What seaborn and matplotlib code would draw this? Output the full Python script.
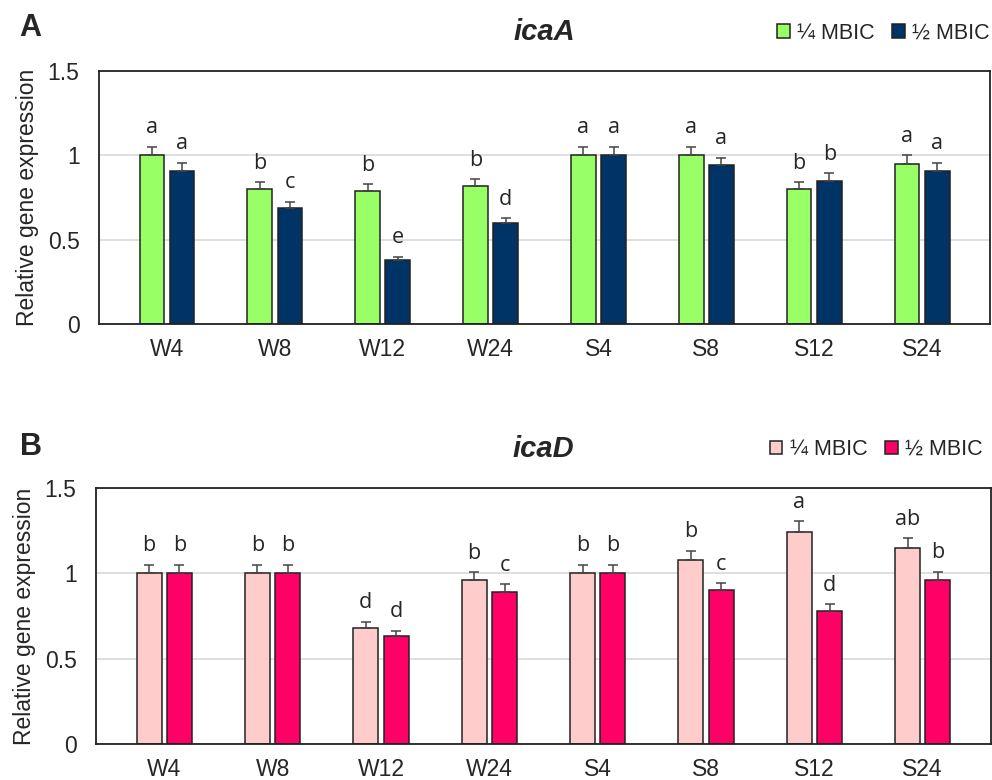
import pandas as pd
import seaborn as sns
import matplotlib.pyplot as plt

conditions = ["W4", "W8", "W12", "W24", "S4", "S8", "S12", "S24"]
doses = ["\u00bc MBIC", "\u00bd MBIC"]

icaA_quarter = [1.00, 0.80, 0.79, 0.82, 1.00, 1.00, 0.80, 0.95]
icaA_half = [0.91, 0.69, 0.38, 0.60, 1.00, 0.94, 0.85, 0.91]
icaA_quarter_err = [0.05, 0.04, 0.04, 0.04, 0.05, 0.05, 0.04, 0.05]
icaA_half_err = [0.045, 0.035, 0.02, 0.027, 0.05, 0.045, 0.045, 0.045]
icaA_quarter_sig = ["a", "b", "b", "b", "a", "a", "b", "a"]
icaA_half_sig = ["a", "c", "e", "d", "a", "a", "b", "a"]

icaD_quarter = [1.00, 1.00, 0.68, 0.96, 1.00, 1.08, 1.24, 1.15]
icaD_half = [1.00, 1.00, 0.63, 0.89, 1.00, 0.90, 0.78, 0.96]
icaD_quarter_err = [0.05, 0.05, 0.035, 0.047, 0.05, 0.052, 0.064, 0.056]
icaD_half_err = [0.05, 0.05, 0.032, 0.045, 0.05, 0.041, 0.039, 0.048]
icaD_quarter_sig = ["b", "b", "d", "b", "b", "b", "a", "ab"]
icaD_half_sig = ["b", "b", "d", "c", "b", "c", "d", "b"]

sns.set_theme(style="white")
plt.rcParams["font.family"] = ["Liberation Sans", "DejaVu Sans"]


def draw_panel(ax, gene, q, h, qe, he, qs, hs, colors, letter, letter_pos, legend_x):
    df = pd.DataFrame({
        "condition": conditions * 2,
        "dose": [doses[0]] * len(conditions) + [doses[1]] * len(conditions),
        "value": q + h,
    })
    sns.barplot(data=df, x="condition", y="value", hue="dose", order=conditions,
                hue_order=doses, palette=dict(zip(doses, colors)), width=0.56,
                gap=0.18, edgecolor="#222222", linewidth=1.1, errorbar=None,
                saturation=1, ax=ax)

    # upper-only error bars + significance letters
    for cont, errs, sigs in zip(ax.containers, [qe, he], [qs, hs]):
        xs = [b.get_x() + b.get_width() / 2 for b in cont]
        ys = [b.get_height() for b in cont]
        ax.errorbar(xs, ys, yerr=[[0] * len(errs), errs], fmt="none",
                    ecolor="#444444", elinewidth=1.1, capsize=3.3, capthick=1.1)
        for x, y, e, s in zip(xs, ys, errs, sigs):
            ax.text(x, y + e + 0.05, s, ha="center", va="bottom",
                    fontsize=15.5, family=["Open Sans", "DejaVu Sans"])

    ax.set_ylim(0, 1.5)
    ax.set_yticks([0, 0.5, 1, 1.5])
    ax.set_yticklabels(["0", "0.5", "1", "1.5"])
    ax.yaxis.grid(True, color="#d9d9d9", linewidth=1.2)
    ax.set_axisbelow(True)
    ax.set_xlabel("")
    ax.set_ylabel("Relative gene expression", fontsize=16.5, labelpad=6)
    ax.tick_params(axis="both", length=0, labelsize=16.5)
    ax.tick_params(axis="x", pad=10)
    ax.tick_params(axis="y", pad=14)
    for sp in ax.spines.values():
        sp.set_visible(True)
        sp.set_color("#222222")
        sp.set_linewidth(1.3)

    ax.set_title(gene, fontsize=21, fontweight="bold", fontstyle="italic", pad=22)
    ax.text(letter_pos[0], letter_pos[1], letter, transform=ax.transAxes, fontsize=22,
            fontweight="bold", ha="left", va="center")

    handles, labels = ax.get_legend_handles_labels()
    ax.legend(handles, labels, loc="center right", bbox_to_anchor=(legend_x, 1.15),
              ncol=2, frameon=False, fontsize=15.5, handlelength=0.6,
              handleheight=0.6, handletextpad=0.35, columnspacing=0.8,
              borderpad=0, borderaxespad=0)


fig = plt.figure(figsize=(9.92, 7.80), dpi=100)
ax_a = fig.add_axes([0.0998, 0.5846, 0.8982, 0.3244])
ax_b = fig.add_axes([0.0968, 0.0462, 0.9022, 0.3282])

draw_panel(ax_a, "icaA", icaA_quarter, icaA_half, icaA_quarter_err, icaA_half_err,
           icaA_quarter_sig, icaA_half_sig, ["#99ff66", "#003366"], "A",
           (-0.089, 1.17), 1.0)
draw_panel(ax_b, "icaD", icaD_quarter, icaD_half, icaD_quarter_err, icaD_half_err,
           icaD_quarter_sig, icaD_half_sig, ["#ffcccc", "#ff0066"], "B",
           (-0.085, 1.16), 0.991)

fig.savefig("out.png", dpi=100)
